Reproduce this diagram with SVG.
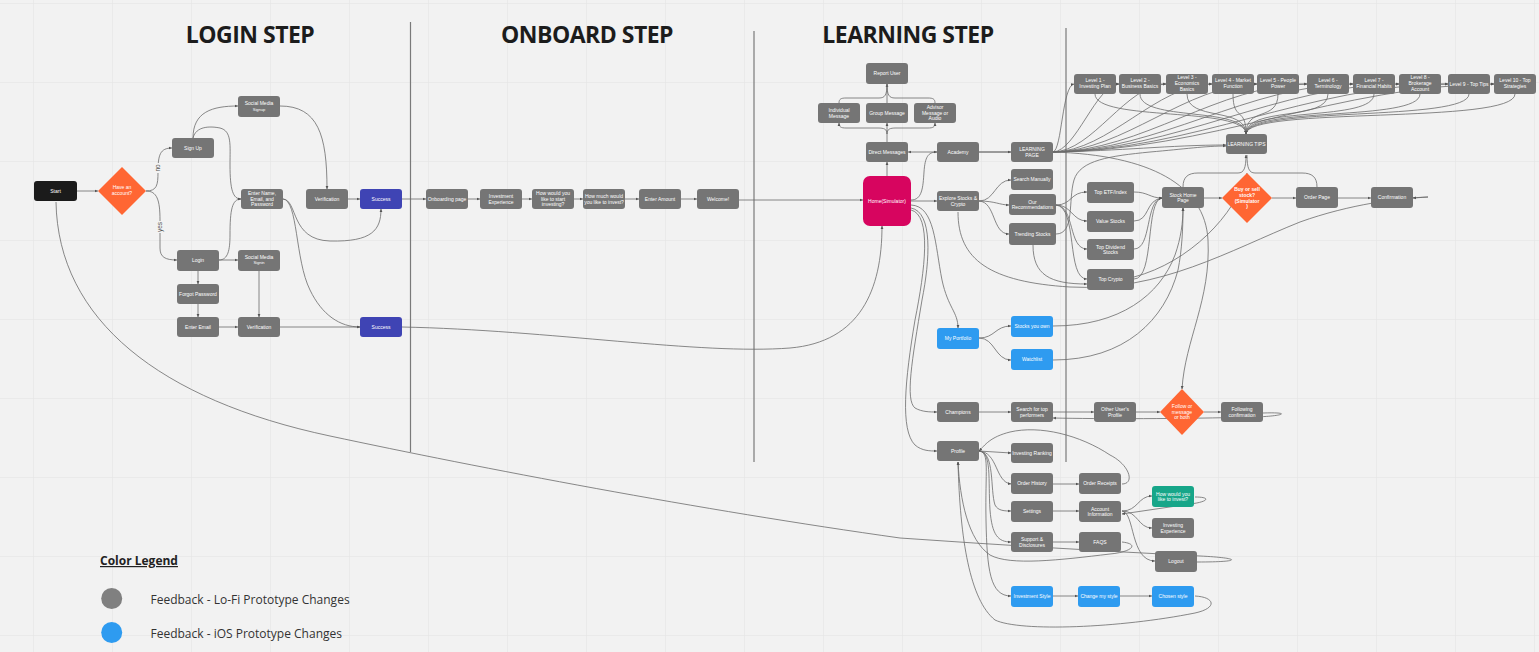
<svg xmlns="http://www.w3.org/2000/svg" width="1539" height="652" viewBox="0 0 1539 652">
<defs>
<pattern id="grid" x="33" y="3" width="79" height="79" patternUnits="userSpaceOnUse"><path d="M0,0 L79,0 M0,0 L0,79" fill="none" stroke="#e2e2e2" stroke-width="1"/></pattern>
<marker id="a" viewBox="0 0 6 6" refX="5.5" refY="3" markerWidth="3.5" markerHeight="3.5" markerUnits="userSpaceOnUse" orient="auto"><path d="M0,0.5 L6,3 L0,5.5z" fill="#555"/></marker>
<style>
.c path{fill:none;stroke:#6b6b6b;stroke-width:0.8}
.c .a{marker-end:url(#a)}
.n rect{fill:#757575}
.n polygon{fill:#ff6633}
.n text{fill:#fff;font-family:"Liberation Sans",Arial,sans-serif;font-size:5px;text-anchor:middle}
.n .sm{font-size:4px}
.n.blue rect{fill:#2e9bf0}
.n.ind rect{fill:#3f44b4}
.n.grn rect{fill:#17a689}
.title{font-family:"Open Sans",sans-serif;font-weight:bold;font-size:23px;letter-spacing:-0.5px;fill:#1c1c1c;text-anchor:middle}
.div{stroke:#7a7a7a;stroke-width:1.2}
.lbl{font-family:"Liberation Sans",Arial,sans-serif;font-size:6.5px;fill:#555;text-anchor:middle}
.leg{font-family:"Open Sans",sans-serif;font-size:12px;fill:#333}
</style>
</defs>
<rect width="1539" height="652" fill="#f2f2f2"/>
<rect width="1539" height="652" fill="url(#grid)"/>

<g id="titles">
<text class="title" x="250" y="43">LOGIN STEP</text>
<text class="title" x="587" y="43">ONBOARD STEP</text>
<text class="title" x="908" y="43">LEARNING STEP</text>
</g>
<g id="dividers">
<line class="div" x1="410.5" y1="22" x2="410.5" y2="452"/>
<line class="div" x1="754" y1="31" x2="754" y2="462"/>
<line class="div" x1="1066" y1="28" x2="1066" y2="462"/>
</g>

<g id="connectors" class="c">
<!-- login -->
<path class="a" d="M77,191 L98,191"/>
<path class="a" d="M146,191 C157,191 158,185 158,172 C158,155 160,148 172,148"/>
<path class="a" d="M146,191 C157,191 160,200 160,220 L160,248 C160,257 165,260 177,260"/>
<path class="a" d="M193,138 C193,112 212,106 238,106"/>
<path class="a" d="M193,138 C196,126 210,126 220,128 C232,131 230,145 230,165 C230,190 233,199 241,199"/>
<path class="a" d="M219,260 C228,260 230,250 230,235 C230,210 232,199 241,199"/>
<path class="a" d="M219,260 L238,260"/>
<path class="a" d="M280,106 C318,106 327,135 327,189"/>
<path class="a" d="M283,199 C298,200 290,240 330,241 C372,242 381,230 381,209"/>
<path class="a" d="M283,199 C298,200 295,260 310,290 C322,315 340,327 360,327"/>
<path class="a" d="M348,199 L360,199"/>
<path class="a" d="M259,271 L259,317"/>
<path class="a" d="M198,271 L198,284"/>
<path class="a" d="M198,304 L198,317"/>
<path class="a" d="M219,327 L238,327"/>
<path class="a" d="M280,327 L360,327"/>
<path class="a" d="M402,199 L426,199"/>
<path class="a" d="M402,327 C550,330 700,355 790,348 C860,342 882,290 882,226"/>
<path d="M1197,562 C1245,562 1240,558 1200,556 C1100,551 1000,545 900,538 C700,510 480,468 330,436 C160,400 58,320 56,202"/>
<!-- onboard -->
<path class="a" d="M468,199 L480,199"/>
<path class="a" d="M522,199 L532,199"/>
<path class="a" d="M574,199 L583,199"/>
<path class="a" d="M625,199 L639,199"/>
<path class="a" d="M681,199 L697,199"/>
<path class="a" d="M739,200 L863,200"/>
<!-- messages -->
<path class="a" d="M887,176 L887,162"/>
<path class="a" d="M887,142 L887,123"/>
<path class="a" d="M887,134 C887,129 884,128 878,128 L846,128 C841,128 839,127 839,123"/>
<path class="a" d="M887,134 C887,129 890,128 896,128 L928,128 C933,128 935,127 935,123"/>
<path class="a" d="M839,103 C839,99 841,98 846,98 L879,98 C885,98 887,95 887,84"/>
<path d="M935,103 C935,99 933,98 928,98 L895,98 C889,98 887,95 887,84"/>
<path d="M887,103 L887,84"/>
<path class="a" d="M1011,152 L908,152"/>
<path class="a" d="M979,152 L1011,152"/>
<path class="a" d="M911,200 C922,200 923,188 924,172 C925,157 928,152 937,152"/>
<path class="a" d="M911,201 L937,201"/>
<!-- explore -->
<path class="a" d="M979,201 C995,201 995,180 1011,180"/>
<path class="a" d="M979,201 C995,201 1000,205 1009,205"/>
<path class="a" d="M979,201 C996,202 992,234 1009,234"/>
<path class="a" d="M958,212 C958,260 990,282 1070,287 C1160,292 1230,250 1300,222 C1350,204 1400,198 1428,197 L1413,198"/>
<path class="a" d="M1056,205 C1072,205 1070,192 1087,192"/>
<path class="a" d="M1056,205 C1072,205 1072,221 1087,221"/>
<path class="a" d="M1056,205 C1075,206 1068,249 1087,249"/>
<path class="a" d="M1056,205 C1078,207 1066,279 1087,279"/>
<path class="a" d="M1033,245 C1033,275 1050,284 1087,284"/>
<path class="a" d="M1056,234 C1075,234 1068,200 1074,180 C1080,160 1110,156 1150,152 C1185,149 1205,146 1226,146"/>
<path class="a" d="M1134,192 C1148,192 1150,198 1162,198"/>
<path class="a" d="M1134,221 C1150,221 1145,200 1162,198"/>
<path class="a" d="M1134,249 C1152,249 1145,200 1162,198"/>
<path class="a" d="M1134,279 C1155,279 1145,200 1162,198"/>
<path class="a" d="M1204,198 L1222,198"/>
<path class="a" d="M1272,198 L1296,198"/>
<path class="a" d="M1338,198 L1371,198"/>
<path class="a" d="M1183,187 C1183,177 1188,173 1198,173 L1238,173 C1244,173 1246,168 1246,155"/>
<path d="M1317,187 C1317,177 1312,173 1302,173 L1255,173 C1249,173 1247,168 1247,155"/>
<path d="M1134,277 C1190,262 1235,215 1247,173"/>
<path class="a" d="M1053,152 C1150,155 1205,185 1208,240 C1211,300 1185,340 1182,389"/>
<!-- learning page fan -->
<path class="a" d="M1053,152 C1120,151 1170,145 1226,145"/>
<path class="a" d="M1053,152 C1062,150 1062,86 1074,84"/>
<path class="a" d="M1053,152 C1076,151 1096,85 1119,84"/>
<path class="a" d="M1053,152 C1093,151 1126,85 1166,84"/>
<path class="a" d="M1053,152 C1109,151 1156,85 1212,84"/>
<path class="a" d="M1053,152 C1124,151 1186,85 1257,84"/>
<path class="a" d="M1053,152 C1142,151 1218,85 1307,84"/>
<path class="a" d="M1053,152 C1158,151 1248,85 1353,84"/>
<path class="a" d="M1053,152 C1174,151 1278,85 1399,84"/>
<path class="a" d="M1053,152 C1191,151 1310,85 1448,84"/>
<path class="a" d="M1053,152 C1207,151 1340,85 1494,84"/>
<path class="a" d="M1116,84 L1119,84"/>
<path class="a" d="M1161,84 L1166,84"/>
<path class="a" d="M1208,84 L1212,84"/>
<path class="a" d="M1254,84 L1257,84"/>
<path class="a" d="M1299,84 L1307,84"/>
<path class="a" d="M1349,84 L1353,84"/>
<path class="a" d="M1395,84 L1399,84"/>
<path class="a" d="M1441,84 L1448,84"/>
<path class="a" d="M1490,84 L1494,84"/>
<path class="a" d="M1095,94 C1095,122 1246,106 1246,134"/>
<path class="a" d="M1140,94 C1140,122 1246,106 1246,134"/>
<path class="a" d="M1187,94 C1187,122 1246,106 1246,134"/>
<path class="a" d="M1233,94 C1233,122 1246,106 1246,134"/>
<path class="a" d="M1278,94 C1278,122 1246,106 1246,134"/>
<path class="a" d="M1328,94 C1328,122 1246,106 1246,134"/>
<path class="a" d="M1374,94 C1374,122 1246,106 1246,134"/>
<path class="a" d="M1420,94 C1420,122 1246,106 1246,134"/>
<path class="a" d="M1469,94 C1469,122 1246,106 1246,134"/>
<path class="a" d="M1515,94 C1515,125 1246,106 1246,134"/>
<!-- portfolio -->
<path class="a" d="M911,205 C935,206 935,245 942,280 C948,308 958,312 958,328"/>
<path class="a" d="M979,338 C995,338 995,326 1011,326"/>
<path class="a" d="M979,338 C995,338 995,360 1011,360"/>
<path class="a" d="M1053,326 C1120,326 1160,295 1175,255 C1181,238 1183,222 1183,208"/>
<path class="a" d="M1053,360 C1125,360 1165,320 1178,270 C1182,250 1183,228 1183,208"/>
<!-- champions -->
<path class="a" d="M911,208 C933,212 930,260 922,300 C912,360 905,400 915,408 C922,412 930,412 937,412"/>
<path class="a" d="M979,412 L1011,412"/>
<path class="a" d="M1053,412 L1094,412"/>
<path class="a" d="M1136,412 L1160,412"/>
<path class="a" d="M1204,412 L1221,412"/>
<path class="a" d="M1263,413 C1292,412 1285,416 1255,417 C1180,419 1100,419 1053,418"/>
<!-- profile -->
<path class="a" d="M911,210 C932,215 925,270 915,320 C905,380 900,430 915,445 C922,451 930,451 937,451"/>
<path class="a" d="M979,451 L1011,453"/>
<path class="a" d="M979,451 C998,452 995,482 1011,484"/>
<path class="a" d="M979,451 C995,452 990,490 995,505 C998,511 1005,511 1011,511"/>
<path class="a" d="M979,451 C992,452 988,480 990,510 C992,535 998,542 1011,542"/>
<path class="a" d="M979,451 C990,452 985,470 986,520 C987,570 990,596 1011,596"/>
<path class="a" d="M1053,484 L1079,484"/>
<path class="a" d="M1053,511 L1079,511"/>
<path class="a" d="M1053,542 L1079,542"/>
<path class="a" d="M1122,511 C1138,511 1138,496 1152,496"/>
<path class="a" d="M1122,511 C1138,511 1138,528 1152,528"/>
<path class="a" d="M1122,511 C1135,512 1130,561 1155,561"/>
<path class="a" d="M1195,497 C1212,497 1208,502 1190,504 L1122,514"/>
<path class="a" d="M1122,484 C1135,484 1130,465 1110,455 C1080,435 1040,425 1010,432 C990,437 985,445 979,451"/>
<path class="a" d="M1122,542 C1140,544 1132,552 1110,554 C1060,560 1010,566 990,555 C968,540 960,500 958,462"/>
<path class="a" d="M1195,596 C1215,597 1218,608 1195,613 C1120,628 1020,632 995,620 C970,600 960,540 958,462"/>
<path class="a" d="M1053,596 L1078,596"/>
<path class="a" d="M1120,596 L1152,596"/>
</g>

<g id="labels">
<rect x="156" y="163" width="6" height="10" fill="#f2f2f2"/>
<text class="lbl" transform="translate(160.3,168) rotate(-90)">no</text>
<rect x="158" y="221" width="6" height="12" fill="#f2f2f2"/>
<text class="lbl" transform="translate(162.3,227) rotate(-90)">yes</text>
</g>

<g id="start" class="n"><rect x="34" y="181" width="43" height="20" rx="3" style="fill:#1b1b1b"/><text x="55.5" y="192.8">Start</text></g>
<g id="have-account" class="n"><polygon points="122,167 146,191 122,215 98,191"/><text><tspan x="122" y="189.2">Have an</tspan><tspan x="122" y="194.8">account?</tspan></text></g>
<g id="sign-up" class="n"><rect x="172" y="138" width="42" height="20" rx="3"/><text x="193" y="149.8">Sign Up</text></g>
<g id="social-signup" class="n"><rect x="238" y="96" width="42" height="21" rx="3"/><text><tspan x="259" y="105.3">Social Media</tspan><tspan class="sm" x="259" y="110.6">Signup</tspan></text></g>
<g id="enter-name" class="n"><rect x="241" y="189" width="42" height="20" rx="3"/><text><tspan x="262" y="195.2">Enter Name,</tspan><tspan x="262" y="200.8">Email, and</tspan><tspan x="262" y="206.4">Password</tspan></text></g>
<g id="verification-1" class="n"><rect x="306" y="189" width="42" height="20" rx="3"/><text x="327" y="200.8">Verification</text></g>
<g id="success-1" class="n ind"><rect x="360" y="189" width="42" height="20" rx="3"/><text x="381" y="200.8">Success</text></g>
<g id="login" class="n"><rect x="177" y="250" width="42" height="21" rx="3"/><text x="198" y="262.3">Login</text></g>
<g id="social-signin" class="n"><rect x="238" y="250" width="42" height="21" rx="3"/><text><tspan x="259" y="258.8">Social Media</tspan><tspan class="sm" x="259" y="264.1">Signin</tspan></text></g>
<g id="forgot-password" class="n"><rect x="177" y="284" width="42" height="20" rx="3"/><text x="198" y="295.8">Forgot Password</text></g>
<g id="enter-email" class="n"><rect x="177" y="317" width="42" height="20" rx="3"/><text x="198" y="328.8">Enter Email</text></g>
<g id="verification-2" class="n"><rect x="238" y="317" width="42" height="20" rx="3"/><text x="259" y="328.8">Verification</text></g>
<g id="success-2" class="n ind"><rect x="360" y="317" width="42" height="20" rx="3"/><text x="381" y="328.8">Success</text></g>

<g id="onboarding-page" class="n"><rect x="426" y="189" width="42" height="20" rx="3"/><text x="447" y="200.8">Onboarding page</text></g>
<g id="investment-experience" class="n"><rect x="480" y="189" width="42" height="20" rx="3"/><text><tspan x="501" y="198">Investment</tspan><tspan x="501" y="203.6">Experience</tspan></text></g>
<g id="how-start" class="n"><rect x="532" y="189" width="42" height="20" rx="3"/><text><tspan x="553" y="195.2">How would you</tspan><tspan x="553" y="200.8">like to start</tspan><tspan x="553" y="206.4">investing?</tspan></text></g>
<g id="how-much" class="n"><rect x="583" y="189" width="42" height="20" rx="3"/><text><tspan x="604" y="198">How much would</tspan><tspan x="604" y="203.6">you like to invest?</tspan></text></g>
<g id="enter-amount" class="n"><rect x="639" y="189" width="42" height="20" rx="3"/><text x="660" y="200.8">Enter Amount</text></g>
<g id="welcome" class="n"><rect x="697" y="189" width="42" height="20" rx="3"/><text x="718" y="200.8">Welcome!</text></g>

<g id="home" class="n"><rect x="863" y="176" width="48" height="50" rx="7" style="fill:#d7055f"/><text x="887" y="202.8">Home(Simulator)</text></g>
<g id="report-user" class="n"><rect x="866" y="63" width="42" height="21" rx="3"/><text x="887" y="75.3">Report User</text></g>
<g id="individual-message" class="n"><rect x="818" y="103" width="42" height="20" rx="3"/><text><tspan x="839" y="112.2">Individual</tspan><tspan x="839" y="117.8">Message</tspan></text></g>
<g id="group-message" class="n"><rect x="866" y="103" width="42" height="20" rx="3"/><text x="887" y="114.8">Group Message</text></g>
<g id="advisor-message" class="n"><rect x="914" y="103" width="42" height="20" rx="3"/><text><tspan x="935" y="109.2">Advisor</tspan><tspan x="935" y="114.8">Message or</tspan><tspan x="935" y="120.4">Audio</tspan></text></g>
<g id="direct-messages" class="n"><rect x="866" y="142" width="42" height="20" rx="3"/><text x="887" y="153.8">Direct Messages</text></g>
<g id="academy" class="n"><rect x="937" y="142" width="42" height="20" rx="3"/><text x="958" y="153.8">Academy</text></g>
<g id="learning-page" class="n"><rect x="1011" y="142" width="42" height="20" rx="3"/><text><tspan x="1032" y="151">LEARNING</tspan><tspan x="1032" y="156.6">PAGE</tspan></text></g>
<g id="search-manually" class="n"><rect x="1011" y="169" width="42" height="21" rx="3"/><text x="1032" y="181.3">Search Manually</text></g>
<g id="explore" class="n"><rect x="937" y="191" width="42" height="20" rx="3"/><text><tspan x="958" y="200.2">Explore Stocks &amp;</tspan><tspan x="958" y="205.8">Crypto</tspan></text></g>
<g id="our-recommendations" class="n"><rect x="1009" y="194" width="47" height="21" rx="3"/><text><tspan x="1032.5" y="203.7">Our</tspan><tspan x="1032.5" y="209.3">Recommendations</tspan></text></g>
<g id="trending-stocks" class="n"><rect x="1009" y="223" width="47" height="22" rx="3"/><text x="1032.5" y="235.8">Trending Stocks</text></g>
<g id="top-etf" class="n"><rect x="1087" y="182" width="47" height="21" rx="3"/><text x="1110.5" y="194.3">Top ETF/Index</text></g>
<g id="value-stocks" class="n"><rect x="1087" y="211" width="47" height="21" rx="3"/><text x="1110.5" y="223.3">Value Stocks</text></g>
<g id="top-dividend" class="n"><rect x="1087" y="239" width="47" height="21" rx="3"/><text><tspan x="1110.5" y="248.7">Top Dividend</tspan><tspan x="1110.5" y="254.3">Stocks</tspan></text></g>
<g id="top-crypto" class="n"><rect x="1087" y="269" width="47" height="21" rx="3"/><text x="1110.5" y="281.3">Top Crypto</text></g>
<g id="stock-home-page" class="n"><rect x="1162" y="187" width="42" height="21" rx="3"/><text><tspan x="1183" y="196.7">Stock Home</tspan><tspan x="1183" y="202.3">Page</tspan></text></g>
<g id="buy-sell" class="n"><polygon points="1247,173 1272,198 1247,223 1222,198"/><text style="font-weight:bold"><tspan x="1247" y="191.4">Buy or sell</tspan><tspan x="1247" y="197">stock?</tspan><tspan x="1247" y="202.6">(Simulator</tspan><tspan x="1247" y="208.2">)</tspan></text></g>
<g id="order-page" class="n"><rect x="1296" y="187" width="42" height="21" rx="3"/><text x="1317" y="199.3">Order Page</text></g>
<g id="confirmation" class="n"><rect x="1371" y="187" width="42" height="21" rx="3"/><text x="1392" y="199.3">Confirmation</text></g>
<g id="learning-tips" class="n"><rect x="1226" y="134" width="41" height="20" rx="3"/><text x="1246.5" y="145.8">LEARNING TIPS</text></g>

<g id="level-1" class="n"><rect x="1074" y="74" width="42" height="20" rx="3"/><text><tspan x="1095" y="82.2">Level 1 -</tspan><tspan x="1095" y="87.8">Investing Plan</tspan></text></g>
<g id="level-2" class="n"><rect x="1119" y="74" width="42" height="20" rx="3"/><text><tspan x="1140" y="82.2">Level 2 -</tspan><tspan x="1140" y="87.8">Business Basics</tspan></text></g>
<g id="level-3" class="n"><rect x="1166" y="74" width="42" height="20" rx="3"/><text><tspan x="1187" y="79.4">Level 3 -</tspan><tspan x="1187" y="85">Economics</tspan><tspan x="1187" y="90.6">Basics</tspan></text></g>
<g id="level-4" class="n"><rect x="1212" y="74" width="42" height="20" rx="3"/><text><tspan x="1233" y="82.2">Level 4 - Market</tspan><tspan x="1233" y="87.8">Function</tspan></text></g>
<g id="level-5" class="n"><rect x="1257" y="74" width="42" height="20" rx="3"/><text><tspan x="1278" y="82.2">Level 5 - People</tspan><tspan x="1278" y="87.8">Power</tspan></text></g>
<g id="level-6" class="n"><rect x="1307" y="74" width="42" height="20" rx="3"/><text><tspan x="1328" y="82.2">Level 6 -</tspan><tspan x="1328" y="87.8">Terminology</tspan></text></g>
<g id="level-7" class="n"><rect x="1353" y="74" width="42" height="20" rx="3"/><text><tspan x="1374" y="82.2">Level 7 -</tspan><tspan x="1374" y="87.8">Financial Habits</tspan></text></g>
<g id="level-8" class="n"><rect x="1399" y="74" width="42" height="20" rx="3"/><text><tspan x="1420" y="79.4">Level 8 -</tspan><tspan x="1420" y="85">Brokerage</tspan><tspan x="1420" y="90.6">Account</tspan></text></g>
<g id="level-9" class="n"><rect x="1448" y="74" width="42" height="20" rx="3"/><text x="1469" y="85.8">Level 9 - Top Tips</text></g>
<g id="level-10" class="n"><rect x="1494" y="74" width="42" height="20" rx="3"/><text><tspan x="1515" y="82.2">Level 10 - Top</tspan><tspan x="1515" y="87.8">Strategies</tspan></text></g>

<g id="my-portfolio" class="n blue"><rect x="937" y="328" width="42" height="21" rx="3"/><text x="958" y="340.3">My Portfolio</text></g>
<g id="stocks-you-own" class="n blue"><rect x="1011" y="316" width="42" height="21" rx="3"/><text x="1032" y="328.3">Stocks you own</text></g>
<g id="watchlist" class="n blue"><rect x="1011" y="349" width="42" height="21" rx="3"/><text x="1032" y="361.3">Watchlist</text></g>
<g id="champions" class="n"><rect x="937" y="402" width="42" height="20" rx="3"/><text x="958" y="413.8">Champions</text></g>
<g id="search-top" class="n"><rect x="1011" y="402" width="42" height="20" rx="3"/><text><tspan x="1032" y="411">Search for top</tspan><tspan x="1032" y="416.6">performers</tspan></text></g>
<g id="other-user" class="n"><rect x="1094" y="402" width="42" height="20" rx="3"/><text><tspan x="1115" y="411">Other User's</tspan><tspan x="1115" y="416.6">Profile</tspan></text></g>
<g id="follow" class="n"><polygon points="1182,389 1204,412 1182,435 1160,412"/><text><tspan x="1182" y="408.2">Follow or</tspan><tspan x="1182" y="413.8">message</tspan><tspan x="1182" y="419.4">or both</tspan></text></g>
<g id="following-confirmation" class="n"><rect x="1221" y="402" width="42" height="20" rx="3"/><text><tspan x="1242" y="411">Following</tspan><tspan x="1242" y="416.6">confirmation</tspan></text></g>
<g id="profile" class="n"><rect x="937" y="441" width="42" height="20" rx="3"/><text x="958" y="452.8">Profile</text></g>
<g id="investing-ranking" class="n"><rect x="1011" y="443" width="42" height="20" rx="3"/><text x="1032" y="454.8">Investing Ranking</text></g>
<g id="order-history" class="n"><rect x="1011" y="473" width="42" height="21" rx="3"/><text x="1032" y="485.3">Order History</text></g>
<g id="order-receipts" class="n"><rect x="1079" y="473" width="42" height="21" rx="3"/><text x="1100" y="485.3">Order Receipts</text></g>
<g id="settings" class="n"><rect x="1011" y="501" width="42" height="21" rx="3"/><text x="1032" y="513.3">Settings</text></g>
<g id="account-information" class="n"><rect x="1079" y="501" width="42" height="21" rx="3"/><text><tspan x="1100" y="510.5">Account</tspan><tspan x="1100" y="516.1">Information</tspan></text></g>
<g id="how-invest" class="n grn"><rect x="1152" y="486" width="42" height="21" rx="3"/><text><tspan x="1173" y="495.7">How would you</tspan><tspan x="1173" y="501.3">like to invest?</tspan></text></g>
<g id="investing-experience" class="n"><rect x="1152" y="518" width="42" height="20" rx="3"/><text><tspan x="1173" y="527.2">Investing</tspan><tspan x="1173" y="532.8">Experience</tspan></text></g>
<g id="support" class="n"><rect x="1011" y="532" width="42" height="20" rx="3"/><text><tspan x="1032" y="541.2">Support &amp;</tspan><tspan x="1032" y="546.8">Disclosures</tspan></text></g>
<g id="faqs" class="n"><rect x="1079" y="532" width="42" height="20" rx="3"/><text x="1100" y="543.8">FAQS</text></g>
<g id="logout" class="n"><rect x="1155" y="551" width="42" height="21" rx="3"/><text x="1176" y="563.3">Logout</text></g>
<g id="investment-style" class="n blue"><rect x="1011" y="586" width="42" height="21" rx="3"/><text x="1032" y="598.3">Investment Style</text></g>
<g id="change-style" class="n blue"><rect x="1078" y="586" width="42" height="21" rx="3"/><text x="1099" y="598.3">Change my style</text></g>
<g id="chosen-style" class="n blue"><rect x="1152" y="586" width="42" height="21" rx="3"/><text x="1173" y="598.3">Chosen style</text></g>

<g id="legend">
<text x="100" y="565" style="font-family:'Open Sans',sans-serif;font-weight:bold;font-size:12px;fill:#222;text-decoration:underline">Color Legend</text>
<circle cx="111.7" cy="598.5" r="10.5" fill="#808080"/>
<text class="leg" x="150.5" y="604">Feedback - Lo-Fi Prototype Changes</text>
<circle cx="111.7" cy="632.5" r="10.5" fill="#2e9bf0"/>
<text class="leg" x="150.5" y="638">Feedback - iOS Prototype Changes</text>
</g>
</svg>
